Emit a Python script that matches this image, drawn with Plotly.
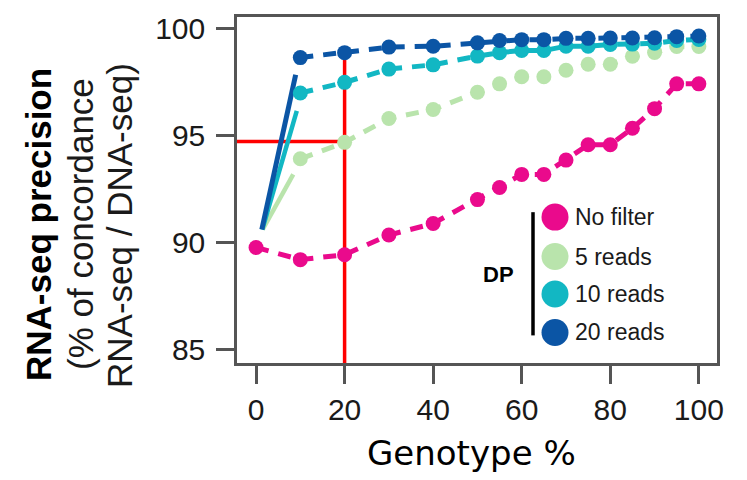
import plotly.graph_objects as go

# ---------------- data ----------------
GENOTYPE_PCT = [0, 10, 20, 30, 40, 50, 55, 60, 65, 70, 75, 80, 85, 90, 95, 100]

SERIES_NAMES = ["No filter", "5 reads", "10 reads", "20 reads"]
NO_FILTER = [89.76, 89.19, 89.42, 90.34, 90.88, 92.00, 92.57, 93.18, 93.18,
             93.85, 94.57, 94.57, 95.34, 96.26, 97.42, 97.42]
READS_5 = [None, 93.91, 94.68, 95.80, 96.22, 97.03, 97.42, 97.75, 97.75,
           98.06, 98.34, 98.34, 98.71, 98.89, 99.17, 99.17]
READS_10 = [None, 96.99, 97.49, 98.11, 98.31, 98.72, 98.88, 98.98, 98.98,
            99.18, 99.18, 99.26, 99.28, 99.32, 99.45, 99.50]
READS_20 = [None, 98.65, 98.88, 99.14, 99.18, 99.34, 99.45, 99.49, 99.49,
            99.55, 99.55, 99.57, 99.57, 99.58, 99.63, 99.66]

# solid connectors drawn from the 0 % point towards the 10 % point
SOLID_X = {"5 reads": [1.5, 8.4], "10 reads": [1.4, 9.2], "20 reads": [1.3, 8.95]}
SOLID_Y = {"5 reads": [90.6, 93.18], "10 reads": [90.6, 96.16], "20 reads": [90.6, 97.85]}

HIGHLIGHT_X = 20
HIGHLIGHT_Y = 94.72

X_TICKS = [0, 20, 40, 60, 80, 100]
Y_TICKS = [85, 90, 95, 100]
X_RANGE = [-4.3, 104.1]
Y_RANGE = [84.35, 100.55]

COLORS = {"No filter": "#EA0A8C", "5 reads": "#B9E4AC",
          "10 reads": "#12B7C3", "20 reads": "#0B55A5"}
VALUES = {"No filter": NO_FILTER, "5 reads": READS_5,
          "10 reads": READS_10, "20 reads": READS_20}

# page body has an 8px default margin: the figure starts at (8, 8) on screen
OFF = 8
W, H = 747 - 2 * OFF, 480 - 2 * OFF
ML, MR, MT, MB = 237 - OFF, W - (717 - OFF), 12 - OFF, H - (363 - OFF)
PW, PH = W - ML - MR, H - MT - MB


def px(x):
    """screen x pixel -> paper coordinate"""
    return (x - OFF - ML) / PW


def py(y):
    """screen y pixel -> paper coordinate"""
    return 1 - (y - OFF - MT) / PH


fig = go.Figure()

# red highlight lines (below the series)
fig.add_trace(go.Scatter(x=[X_RANGE[0], HIGHLIGHT_X], y=[HIGHLIGHT_Y, HIGHLIGHT_Y],
                         mode="lines", line=dict(color="#FF0000", width=3.5),
                         showlegend=False, hoverinfo="skip", cliponaxis=False))
fig.add_trace(go.Scatter(x=[HIGHLIGHT_X, HIGHLIGHT_X], y=[Y_RANGE[0], READS_20[2]],
                         mode="lines", line=dict(color="#FF0000", width=3.5),
                         showlegend=False, hoverinfo="skip", cliponaxis=False))

for name in ["5 reads", "10 reads", "20 reads"]:
    fig.add_trace(go.Scatter(x=SOLID_X[name], y=SOLID_Y[name], mode="lines",
                             line=dict(color=COLORS[name], width=5 if name == "20 reads" else 4.5),
                             showlegend=False, hoverinfo="skip"))

for name in SERIES_NAMES:
    fig.add_trace(go.Scatter(
        x=GENOTYPE_PCT, y=VALUES[name], name=name, mode="lines+markers",
        line=dict(color=COLORS[name], width=5, dash="13px,10px"),
        marker=dict(color=COLORS[name], size=15, symbol="circle"),
        connectgaps=False, showlegend=False, cliponaxis=False))

axis_common = dict(showline=True, mirror=True, linecolor="#555555", linewidth=2.5,
                   ticks="outside", ticklen=18, tickwidth=2.5, tickcolor="#555555",
                   showgrid=False, zeroline=False,
                   tickfont=dict(family="Liberation Sans, Arial", size=30, color="#1a1a1a"))

fig.update_xaxes(range=X_RANGE, tickvals=X_TICKS, **axis_common)
fig.update_yaxes(range=Y_RANGE, tickvals=Y_TICKS, ticklabelstandoff=5, **axis_common)

shapes = []
annotations = []

# custom legend
leg_y = [215, 255, 293, 332]
for name, yy in zip(SERIES_NAMES, leg_y):
    shapes.append(dict(type="circle", xref="paper", yref="paper",
                       xsizemode="pixel", ysizemode="pixel",
                       xanchor=px(555), yanchor=py(yy),
                       x0=-13.5, x1=13.5, y0=-13.5, y1=13.5,
                       fillcolor=COLORS[name], line=dict(width=0)))
    annotations.append(dict(text=name, xref="paper", yref="paper", x=px(573), y=py(yy),
                            xanchor="left", yanchor="middle", showarrow=False,
                            font=dict(family="Liberation Sans, Arial", size=23, color="#1a1a1a")))
shapes.append(dict(type="line", xref="paper", yref="paper",
                   x0=px(533), x1=px(533), y0=py(210), y1=py(335),
                   line=dict(color="#000000", width=3.5)))
annotations.append(dict(text="<b>DP</b>", xref="paper", yref="paper", x=px(498), y=py(273),
                        xanchor="center", yanchor="middle", showarrow=False,
                        font=dict(family="Liberation Sans, Arial", size=22, color="#000000")))

# y-axis title (three lines)
annotations.append(dict(text="<b>RNA-seq precision</b>", xref="paper", yref="paper",
                        x=px(39), y=py(223), xanchor="center", yanchor="middle",
                        textangle=-90, showarrow=False,
                        font=dict(family="Liberation Sans, Arial", size=35, color="#000000")))
annotations.append(dict(text="(% of concordance", xref="paper", yref="paper",
                        x=px(80), y=py(222), xanchor="center", yanchor="middle",
                        textangle=-90, showarrow=False,
                        font=dict(family="Liberation Sans, Arial", size=35, color="#1a1a1a")))
annotations.append(dict(text="RNA-seq / DNA-seq)", xref="paper", yref="paper",
                        x=px(120), y=py(224), xanchor="center", yanchor="middle",
                        textangle=-90, showarrow=False,
                        font=dict(family="Liberation Sans, Arial", size=35, color="#1a1a1a")))

# x-axis title
annotations.append(dict(text="Genotype %", xref="paper", yref="paper",
                        x=px(471), y=py(454), xanchor="center", yanchor="middle",
                        showarrow=False,
                        font=dict(family="DejaVu Sans", size=34, color="#000000")))

fig.update_layout(width=W, height=H, margin=dict(l=ML, r=MR, t=MT, b=MB),
                  paper_bgcolor="white", plot_bgcolor="white",
                  shapes=shapes, annotations=annotations, showlegend=False)

fig.write_html("out.html")
